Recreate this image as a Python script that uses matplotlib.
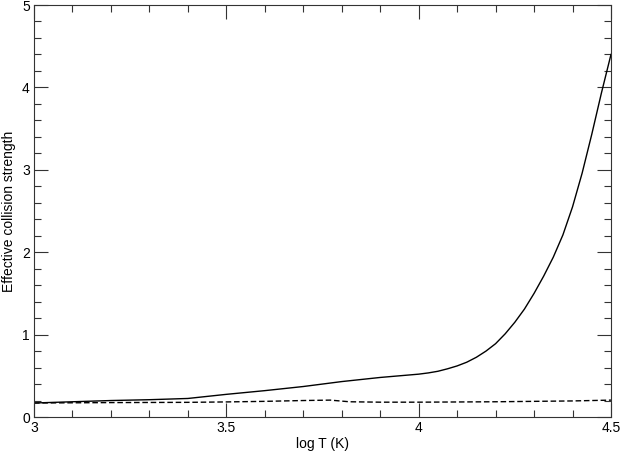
import matplotlib
matplotlib.use("Agg")
import matplotlib.pyplot as plt
from matplotlib.ticker import MultipleLocator, FuncFormatter

plt.rcParams['font.family'] = ['Liberation Sans', 'DejaVu Sans']

# solid curve: effective collision strength vs log T
log_t = [3.0, 3.1, 3.2, 3.3, 3.4, 3.5, 3.6, 3.7, 3.8, 3.9, 4.0,
         4.025, 4.05, 4.075, 4.1, 4.125, 4.15, 4.175, 4.2, 4.225, 4.25,
         4.275, 4.3, 4.325, 4.35, 4.375, 4.4, 4.425, 4.45, 4.475, 4.5]
ups_solid = [0.17, 0.185, 0.20, 0.21, 0.225, 0.275, 0.32, 0.37, 0.43, 0.48, 0.52,
             0.535, 0.555, 0.585, 0.62, 0.665, 0.725, 0.80, 0.89, 1.01, 1.15,
             1.31, 1.50, 1.71, 1.94, 2.21, 2.55, 2.96, 3.43, 3.93, 4.40]

# dashed curve
log_t_dash = [3.0, 3.2, 3.4, 3.5, 3.6, 3.7, 3.77, 3.82, 3.9, 4.0, 4.2, 4.4, 4.5]
ups_dash = [0.17, 0.175, 0.178, 0.183, 0.19, 0.20, 0.205, 0.185, 0.18, 0.18,
            0.185, 0.195, 0.205]

fig = plt.figure(figsize=(6.22, 4.55), dpi=100)
ax = fig.add_axes([0.0547, 0.0835, 0.9276, 0.9055])

ax.plot(log_t, ups_solid, color="black", lw=1.0)
ax.plot(log_t_dash, ups_dash, color="black", lw=1.0, linestyle=(0, (4, 2)))

ax.set_xlim(3, 4.5)
ax.set_ylim(0, 5)
ax.xaxis.set_major_locator(MultipleLocator(0.5))
ax.xaxis.set_minor_locator(MultipleLocator(0.1))
ax.yaxis.set_major_locator(MultipleLocator(1))
ax.yaxis.set_minor_locator(MultipleLocator(0.2))
ax.xaxis.set_major_formatter(FuncFormatter(lambda v, p: f"{v:g}"))
ax.yaxis.set_major_formatter(FuncFormatter(lambda v, p: f"{v:g}"))

ax.tick_params(which="both", direction="in", top=True, right=True,
               labelsize=10, color="#333333", width=0.8)
ax.tick_params(which="major", length=10, pad=3)
ax.tick_params(which="minor", length=5)
for s in ax.spines.values():
    s.set_linewidth(0.8)
    s.set_color("#333333")

ax.set_xlabel("log T (K)", fontsize=10, labelpad=1)
ax.set_ylabel("Effective collision strength", fontsize=10, labelpad=4)

fig.savefig("out.png", dpi=100)
